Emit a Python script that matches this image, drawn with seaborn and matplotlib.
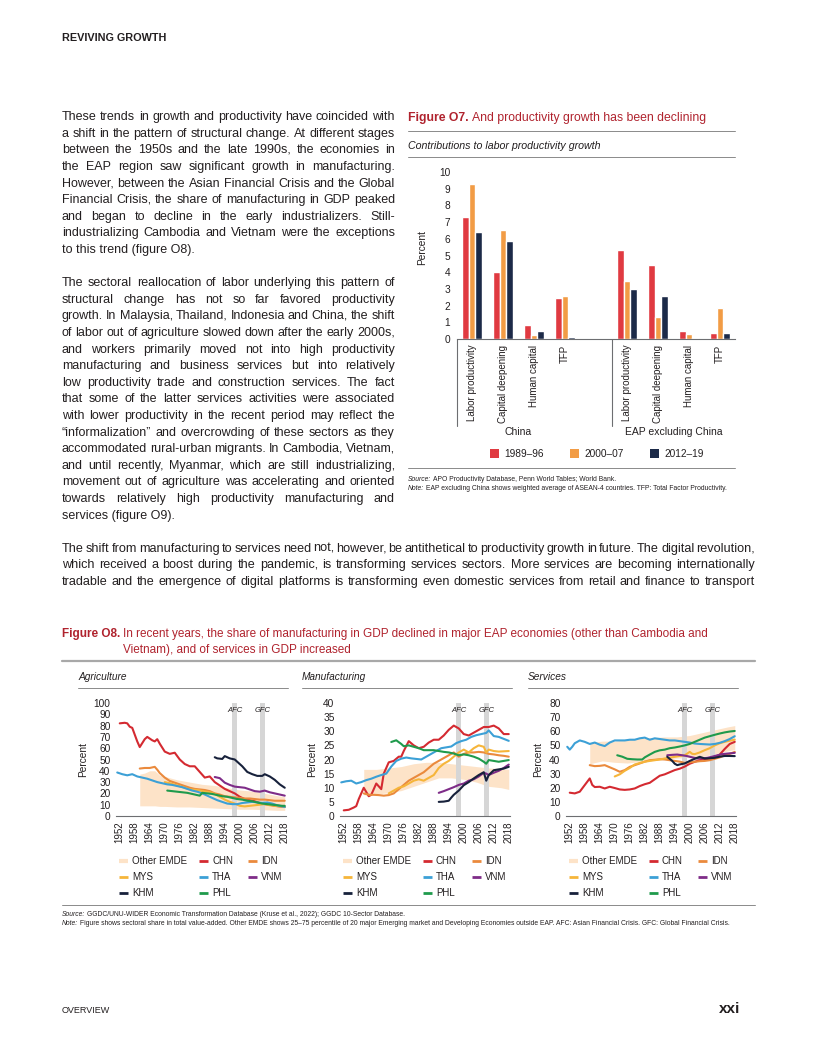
import matplotlib
matplotlib.use("Agg")
import matplotlib.pyplot as plt
from matplotlib.lines import Line2D
from matplotlib.patches import Patch
import matplotlib.transforms as mtransforms
import seaborn as sns
import pandas as pd

# ---------------------------------------------------------------- data: Figure O7
PERIODS = ["1989–96", "2000–07", "2012–19"]
COMPONENTS = ["Labor productivity", "Capital deepening", "Human capital", "TFP"]
GROUPS = ["China", "EAP excluding China"]
CHINA_1989_96 = [7.3, 4.0, 0.85, 2.45]
CHINA_2000_07 = [9.3, 6.5, 0.25, 2.55]
CHINA_2012_19 = [6.4, 5.85, 0.45, 0.12]
EAP_1989_96 = [5.3, 4.45, 0.45, 0.37]
EAP_2000_07 = [3.45, 1.3, 0.32, 1.85]
EAP_2012_19 = [3.0, 2.6, 0.05, 0.37]
O7_YTICKS = list(range(0, 11))

# ---------------------------------------------------------------- data: Figure O8
YEAR_TICKS = list(range(1952, 2019, 6))

# Agriculture
AGR_EMDE_YEARS = [1960, 1962, 1964, 1966, 1968, 1970, 1975, 1980, 1985, 1990, 1995, 2000, 2005, 2010, 2015, 2018]
AGR_EMDE_LO = [9, 9, 9, 9, 8.5, 8.5, 8, 8, 7.5, 7, 6.5, 6, 6, 5.5, 5, 5]
AGR_EMDE_HI = [37, 38, 40, 40, 36, 35, 32, 30, 28, 27, 25, 23, 22, 20, 18, 17]
AGR_CHN_YEARS = [1952, 1954, 1955, 1956, 1957, 1959, 1960, 1962, 1963, 1965, 1966, 1967, 1968, 1970, 1972, 1974, 1976,
                 1978, 1980, 1982, 1984, 1986, 1988, 1990, 1992, 1994, 1996, 1998, 2000, 2002, 2004, 2006, 2008, 2010,
                 2012, 2014, 2016, 2018]
AGR_CHN = [82, 82.5, 82, 79, 78, 66, 61, 68, 70, 67, 66, 68, 64, 57, 55, 56, 50, 46, 44, 44, 39, 34, 35, 30, 27, 24, 22,
           20, 17, 15, 14, 13, 11.5, 10.5, 10, 9, 8.5, 8]
AGR_IDN_YEARS = [1960, 1962, 1964, 1966, 1967, 1968, 1970, 1972, 1974, 1976, 1978, 1980, 1982, 1984, 1986, 1988, 1990,
                 1992, 1994, 1996, 1998, 2000, 2002, 2004, 2006, 2008, 2010, 2012, 2014, 2016, 2018]
AGR_IDN = [42, 42.5, 42.5, 43.5, 41, 38, 34, 31, 29.5, 28, 26.5, 25, 24, 23.5, 23, 22, 20, 19, 17.5, 17, 16.5, 16, 15.5,
           15.5, 15, 14.5, 14.5, 14, 13.5, 13.5, 13.5]
AGR_MYS_YEARS = [1970, 1972, 1975, 1978, 1980, 1983, 1985, 1988, 1990, 1992, 1994, 1996, 1998, 2000, 2002, 2004, 2006,
                 2008, 2010, 2012, 2014, 2016, 2018]
AGR_MYS = [30, 29, 27, 25, 23.5, 23, 22, 21, 19.5, 17, 14.5, 12.5, 11, 9, 8.5, 9, 9.5, 10, 10.5, 9.5, 9, 8.5, 8]
AGR_THA_YEARS = [1951, 1953, 1955, 1957, 1959, 1961, 1963, 1965, 1967, 1969, 1971, 1973, 1975, 1977, 1979, 1981, 1983,
                 1985, 1987, 1989, 1991, 1993, 1995, 1997, 1999, 2001, 2003, 2005, 2007, 2009, 2011, 2013, 2015, 2017,
                 2018]
AGR_THA = [38.5, 37, 36, 37, 35, 34, 33, 31.5, 30, 29, 28, 27.5, 26.5, 25.5, 24, 22.5, 21.5, 20, 18, 16, 14, 12.5, 11,
           10.5, 10.5, 11.5, 12, 12.5, 12, 11.5, 12, 11, 9.5, 8.5, 8]
AGR_VNM_YEARS = [1990, 1992, 1994, 1996, 1998, 2000, 2002, 2004, 2006, 2008, 2010, 2012, 2014, 2016, 2018]
AGR_VNM = [34.5, 33.5, 29.5, 27.5, 26, 25.5, 25, 23.5, 22, 21.5, 22.5, 21, 20, 19, 18]
AGR_KHM_YEARS = [1990, 1991, 1993, 1994, 1996, 1998, 1999, 2001, 2003, 2005, 2007, 2009, 2010, 2012, 2014, 2016, 2018]
AGR_KHM = [52, 51, 50.5, 53, 51, 50, 48, 44, 39, 37, 35.5, 35.5, 37, 35, 32, 28, 25]
AGR_PHL_YEARS = [1971, 1973, 1975, 1977, 1979, 1981, 1983, 1984, 1985, 1987, 1989, 1991, 1993, 1995, 1997, 1999, 2001,
                 2003, 2005, 2007, 2009, 2011, 2013, 2015, 2017, 2018]
AGR_PHL = [22.5, 22, 21.5, 21, 20.5, 19.5, 18.5, 18, 20.5, 20, 19.5, 18.5, 17.5, 17, 16, 15, 14.5, 13.5, 13, 12, 11,
           10.5, 10, 9.5, 9, 9]

# Manufacturing
MAN_EMDE_YEARS = [1960, 1965, 1970, 1975, 1980, 1985, 1990, 1995, 2000, 2005, 2010, 2015, 2018]
MAN_EMDE_LO = [7.5, 7.8, 8.2, 9, 10.5, 12, 13.5, 13.5, 13, 12, 10.5, 10, 9.4]
MAN_EMDE_HI = [16.5, 16.5, 17, 17.5, 18.5, 19, 19, 18.5, 18, 17.5, 17, 16.8, 16.5]
MAN_CHN_YEARS = [1952, 1954, 1956, 1957, 1958, 1960, 1961, 1962, 1963, 1965, 1966, 1967, 1968, 1970, 1972, 1974, 1975,
                 1976, 1978, 1980, 1982, 1984, 1986, 1988, 1990, 1992, 1994, 1996, 1998, 2000, 2002, 2004, 2006, 2008,
                 2010, 2012, 2014, 2016, 2018]
MAN_CHN = [2, 2.2, 3, 3.5, 6, 10, 8.5, 7, 7.5, 11.5, 10.5, 9.5, 15, 19, 19.5, 21, 21, 23, 26.5, 25, 24, 24.5, 26, 27,
           27, 28.5, 30.5, 32, 31, 29, 28.5, 29.5, 30.5, 31.5, 31.5, 32, 31, 29, 29]
MAN_IDN_YEARS = [1960, 1962, 1964, 1966, 1968, 1970, 1972, 1974, 1976, 1978, 1980, 1982, 1984, 1986, 1988, 1990, 1992,
                 1994, 1996, 1998, 2000, 2002, 2004, 2006, 2008, 2010, 2012, 2014, 2016, 2018]
MAN_IDN = [8, 7.5, 7.5, 7.4, 7.2, 7.4, 8, 9.5, 11, 12.5, 13.5, 14.5, 15.5, 17, 18.5, 19.5, 20.5, 21.5, 22.5, 21, 22,
           22.5, 22.5, 22.7, 22.5, 22, 21.8, 21.5, 21.3, 21]
MAN_MYS_YEARS = [1970, 1972, 1974, 1976, 1978, 1980, 1982, 1984, 1986, 1988, 1990, 1992, 1994, 1996, 1998, 2000, 2002,
                 2004, 2006, 2008, 2009, 2010, 2012, 2014, 2016, 2018]
MAN_MYS = [8, 9, 10, 10.5, 11.5, 12.5, 13, 12.5, 13.5, 14.5, 17, 18.5, 19.5, 21, 22.5, 23.5, 22.5, 24, 25, 24.5, 22.5,
           23.5, 23, 22.8, 22.9, 23]
MAN_THA_YEARS = [1951, 1953, 1955, 1957, 1959, 1961, 1963, 1965, 1967, 1969, 1971, 1973, 1975, 1977, 1979, 1981, 1983,
                 1985, 1987, 1989, 1991, 1993, 1995, 1997, 1999, 2001, 2003, 2005, 2007, 2009, 2010, 2012, 2014, 2016,
                 2018]
MAN_THA = [11.9, 12.3, 12.5, 11.5, 12, 12.7, 13.2, 13.9, 14.5, 15, 17.5, 19.5, 20.3, 20.7, 20.4, 20.2, 20, 21, 22, 23,
           24, 24.3, 24.6, 25.8, 26.5, 27, 28, 28.6, 29, 29.4, 30.3, 28.3, 28, 27.3, 26.6]
MAN_VNM_YEARS = [1990, 1992, 1994, 1996, 1998, 2000, 2002, 2004, 2006, 2008, 2009, 2010, 2012, 2014, 2016, 2018]
MAN_VNM = [8.2, 8.8, 9.5, 10.2, 11, 11.5, 12.5, 13, 14, 15.3, 15, 14.5, 15.3, 16, 17, 18.2]
MAN_KHM_YEARS = [1990, 1992, 1994, 1995, 1996, 1998, 2000, 2002, 2004, 2006, 2008, 2009, 2010, 2012, 2014, 2016, 2018]
MAN_KHM = [5, 5.1, 5.4, 6.5, 7.5, 9, 10.9, 12, 13.3, 14.5, 15.5, 12.5, 14.5, 16.2, 16.5, 16.8, 17.4]
MAN_PHL_YEARS = [1971, 1973, 1975, 1976, 1978, 1980, 1982, 1984, 1986, 1988, 1990, 1992, 1994, 1996, 1998, 2000, 2002,
                 2004, 2006, 2008, 2009, 2010, 2012, 2014, 2016, 2018]
MAN_PHL = [26.2, 26.8, 25.5, 24.7, 25, 24.5, 24, 23.3, 23.3, 23.3, 23, 22.7, 22.5, 22.1, 21.5, 21.8, 21.5, 21, 20.3,
           19.2, 18.5, 19.8, 19.5, 19.2, 19.5, 19.8]

# Services
SER_EMDE_YEARS = [1960, 1965, 1970, 1975, 1980, 1985, 1990, 1995, 2000, 2005, 2010, 2015, 2018]
SER_EMDE_LO = [37, 39, 38, 37.5, 38.5, 40, 40.5, 41, 41.5, 42, 44, 46, 47]
SER_EMDE_HI = [52, 53, 53, 54, 55, 55.5, 56, 56, 57, 59, 61, 63, 64]
SER_CHN_YEARS = [1952, 1954, 1956, 1958, 1960, 1961, 1962, 1964, 1966, 1968, 1970, 1972, 1974, 1976, 1978, 1980, 1982,
                 1984, 1986, 1988, 1990, 1992, 1994, 1996, 1998, 2000, 2002, 2004, 2006, 2008, 2010, 2012, 2014, 2016,
                 2018]
SER_CHN = [16.5, 16, 17.2, 21.9, 26.6, 22, 20.5, 20.7, 19.5, 20.7, 19.8, 18.8, 18.5, 18.8, 19.5, 21.2, 22.5, 23.5, 26,
           28.5, 29.5, 31, 32.5, 33.5, 35, 37, 38.4, 39.5, 40, 40.7, 41.5, 43.5, 47.5, 51, 52.5]
SER_IDN_YEARS = [1960, 1962, 1964, 1966, 1968, 1970, 1972, 1974, 1976, 1978, 1980, 1982, 1984, 1986, 1988, 1990, 1992,
                 1994, 1996, 1998, 2000, 2002, 2004, 2006, 2008, 2010, 2012, 2014, 2016, 2018]
SER_IDN = [36, 35.3, 35.5, 36, 34.5, 33, 31.3, 32.5, 34.8, 36, 37.2, 38.5, 39.5, 39.8, 40.2, 40, 39.5, 39, 38.5, 37.6,
           38, 38.4, 38.8, 39, 39.5, 40.5, 41.5, 43, 44, 45.4]
SER_MYS_YEARS = [1970, 1972, 1974, 1976, 1978, 1980, 1982, 1984, 1986, 1988, 1990, 1992, 1994, 1996, 1998, 2000, 2001,
                 2002, 2004, 2006, 2008, 2010, 2012, 2014, 2016, 2018]
SER_MYS = [28, 29.5, 32, 34, 36.5, 37.5, 38.4, 39, 39.5, 40, 40.7, 41.3, 41.9, 42.5, 43, 45.4, 44, 43.8, 45, 46.6, 48,
           50, 51.5, 52.5, 53.3, 54]
SER_THA_YEARS = [1951, 1952, 1953, 1954, 1956, 1958, 1960, 1962, 1964, 1966, 1968, 1970, 1972, 1974, 1976, 1978, 1980,
                 1982, 1984, 1986, 1988, 1990, 1992, 1994, 1996, 1998, 2000, 2002, 2004, 2006, 2008, 2010, 2012, 2014,
                 2016, 2018]
SER_THA = [49, 47, 49, 51.5, 53.5, 52.5, 51, 52, 50.5, 49.5, 52, 53.5, 53.5, 53.5, 54, 54, 55, 55.5, 54, 55, 54.5, 54,
           53.5, 53.5, 53, 52.5, 52, 51.3, 51, 50.8, 50.6, 51, 51.8, 53, 54.5, 56.5]
SER_VNM_YEARS = [1991, 1993, 1995, 1997, 1999, 2001, 2003, 2005, 2007, 2009, 2011, 2013, 2015, 2017, 2018]
SER_VNM = [43, 43.3, 43.5, 43, 42.4, 41.5, 40.7, 40.8, 41.2, 42, 43, 43.8, 44.2, 44.5, 44.7]
SER_KHM_YEARS = [1991, 1993, 1994, 1995, 1996, 1998, 2000, 2002, 2004, 2006, 2008, 2010, 2012, 2014, 2016, 2018]
SER_KHM = [41.9, 39, 37, 36, 36.5, 37.2, 39, 40.5, 41.9, 40.7, 40.9, 41.2, 42, 42.5, 42.5, 42.4]
SER_PHL_YEARS = [1971, 1973, 1975, 1977, 1979, 1981, 1982, 1984, 1986, 1988, 1990, 1992, 1994, 1996, 1998, 2000, 2002,
                 2004, 2006, 2008, 2010, 2012, 2014, 2016, 2018]
SER_PHL = [43, 42, 40.5, 40.2, 40, 40, 41.5, 43.5, 45.4, 46.5, 47, 48, 48.5, 49.2, 50, 51, 52.5, 54, 55.5, 56.5, 57.5,
           58.4, 59.2, 59.8, 60.2]

COUNTRIES = ["CHN", "IDN", "MYS", "THA", "VNM", "KHM", "PHL"]

# ---------------------------------------------------------------- styles
W, H = 816, 1056
TXT = "#231f20"
RED_T = "#b0232e"
RULE = "#8a8a8a"
BAR_COLORS = ["#e03a41", "#f29c45", "#1c2a48"]
LINE_COLORS = {"CHN": "#d42a31", "IDN": "#ea8a3d", "MYS": "#f6b53a", "THA": "#3ca0d6",
               "VNM": "#7e2c88", "KHM": "#17213b", "PHL": "#1f9a4c"}
EMDE_COLOR = "#fde3c8"

sns.set_theme(style="white")
FAM = ["Liberation Sans", "DejaVu Sans"]
plt.rcParams["font.family"] = FAM
plt.rcParams["text.color"] = TXT
plt.rcParams["axes.labelcolor"] = TXT
plt.rcParams["xtick.color"] = TXT
plt.rcParams["ytick.color"] = TXT

fig = plt.figure(figsize=(W / 100, H / 100), dpi=100)
fig.patch.set_facecolor("white")
R = fig.canvas.get_renderer()


def rect(l, t, r, b):
    return [l / W, 1 - b / H, (r - l) / W, (b - t) / H]


def T(x, yc, s, size, ha="left", **kw):
    kw.setdefault("color", TXT)
    base = round(yc + 0.36 * size) - 0.25
    return fig.text(x / W, 1 - base / H, s, fontsize=size, ha=ha, va="baseline", **kw)


def tw(s, size, **kw):
    kw.pop("color", None)
    t = fig.text(0, 0, s, fontsize=size, **kw)
    w = t.get_window_extent(renderer=R).width
    t.remove()
    return w


def space_w(size, **kw):
    return tw("a a", size, **kw) - tw("aa", size, **kw)


def rich(x, yc, parts, size):
    for s, kw in parts:
        T(x, yc, s, size, **kw)
        x += tw(s, size, **kw) + space_w(size, **kw)
    return x


def rule(x0, x1, y, color=RULE, lw=0.7):
    fig.add_artist(Line2D([x0 / W, x1 / W], [1 - y / H, 1 - y / H], transform=fig.transFigure, color=color, lw=lw))


def fit_size(lines, x0, x1, size, min_gap=2.0):
    s = size
    for line in lines:
        words = line.split()
        while s > 6:
            gap = (x1 - x0 - sum(tw(w, s) for w in words)) / (len(words) - 1)
            if gap >= min_gap:
                break
            s -= 0.1
    return s


def para(lines, x0, x1, y0, dy, size, ends=True):
    for i, line in enumerate(lines):
        yc = y0 + i * dy
        words = line.split()
        if ends and i == len(lines) - 1:
            T(x0, yc, line, size)
            continue
        widths = [tw(w, size) for w in words]
        gap = (x1 - x0 - sum(widths)) / (len(words) - 1)
        x = x0
        for w, wd in zip(words, widths):
            T(x, yc, w, size)
            x += wd + gap


# ---------------------------------------------------------------- page text
T(62, 38, "REVIVING GROWTH", 7.8, weight="bold")
T(62, 1011, "OVERVIEW", 6.5)
T(740, 1009, "xxi", 11, ha="right", weight="bold")

P1 = ["These trends in growth and productivity have coincided with",
      "a shift in the pattern of structural change. At different stages",
      "between the 1950s and the late 1990s, the economies in",
      "the EAP region saw significant growth in manufacturing.",
      "However, between the Asian Financial Crisis and the Global",
      "Financial Crisis, the share of manufacturing in GDP peaked",
      "and began to decline in the early industrializers. Still-",
      "industrializing Cambodia and Vietnam were the exceptions",
      "to this trend (figure O8)."]
P2 = ["The sectoral reallocation of labor underlying this pattern of",
      "structural change has not so far favored productivity",
      "growth. In Malaysia, Thailand, Indonesia and China, the shift",
      "of labor out of agriculture slowed down after the early 2000s,",
      "and workers primarily moved not into high productivity",
      "manufacturing and business services but into relatively",
      "low productivity trade and construction services. The fact",
      "that some of the latter services activities were associated",
      "with lower productivity in the recent period may reflect the",
      "“informalization” and overcrowding of these sectors as they",
      "accommodated rural-urban migrants. In Cambodia, Vietnam,",
      "and until recently, Myanmar, which are still industrializing,",
      "movement out of agriculture was accelerating and oriented",
      "towards relatively high productivity manufacturing and",
      "services (figure O9)."]
P3 = ["The shift from manufacturing to services need not, however, be antithetical to productivity growth in future. The digital revolution,",
      "which received a boost during the pandemic, is transforming services sectors. More services are becoming internationally",
      "tradable and the emergence of digital platforms is transforming even domestic services from retail and finance to transport"]
DY = 16.6
Y0 = 117
body_left = fit_size(P1[:-1] + P2[:-1], 62, 395, 9.2, 2.4)
body_wide = fit_size(P3, 62, 755, 9.2, 2.0)
para(P1, 62, 395, Y0, DY, body_left)
para(P2, 62, 395, Y0 + 10 * DY, DY, body_left)
para(P3, 62, 755, Y0 + 26 * DY, DY, body_wide, ends=False)

# ---------------------------------------------------------------- Figure O7
rich(408, 118, [("Figure O7.", dict(color=RED_T, weight="bold")),
                ("And productivity growth has been declining", dict(color=RED_T))], 8.8)
rule(408, 735, 131)
T(408, 146, "Contributions to labor productivity growth", 7.7, style="italic")
rule(408, 735, 157)

rows = []
for g, series in [(GROUPS[0], [CHINA_1989_96, CHINA_2000_07, CHINA_2012_19]),
                  (GROUPS[1], [EAP_1989_96, EAP_2000_07, EAP_2012_19])]:
    for p, vals in zip(PERIODS, series):
        for comp, v in zip(COMPONENTS, vals):
            rows.append({"slot": f"{g}|{comp}", "period": p, "value": v})
df7 = pd.DataFrame(rows)
order = [f"{GROUPS[0]}|{c}" for c in COMPONENTS] + ["gap"] + [f"{GROUPS[1]}|{c}" for c in COMPONENTS]

ax7 = fig.add_axes(rect(457, 172, 735, 339))
sns.barplot(data=df7, x="slot", y="value", hue="period", order=order, hue_order=PERIODS,
            palette=BAR_COLORS, saturation=1, width=0.64, errorbar=None, legend=False, ax=ax7)
ax7.set_xlim(-0.48, 8.48)
ax7.set_ylim(0, 10)
ax7.set_yticks(O7_YTICKS)
ax7.set_xticks([0, 1, 2, 3, 5, 6, 7, 8])
ax7.set_xticklabels(COMPONENTS * 2, rotation=90, va="top")
ax7.tick_params(axis="x", length=0, pad=4, labelsize=7)
ax7.tick_params(axis="y", length=0, pad=5, labelsize=7.3)
ax7.set_xlabel("")
ax7.set_ylabel("")
for sp in ["top", "right", "left"]:
    ax7.spines[sp].set_visible(False)
ax7.spines["bottom"].set_color("#6d6e71")
ax7.spines["bottom"].set_linewidth(0.8)
for xv in [-0.48, 4.5]:
    ax7.axvline(xv, ymin=-0.52, ymax=0, clip_on=False, color="#6d6e71", lw=0.8)
btr = mtransforms.blended_transform_factory(ax7.transData, ax7.transAxes)
ax7.text(1.5, -0.555, GROUPS[0], transform=btr, ha="center", va="center", fontsize=7.5)
ax7.text(6.5, -0.555, GROUPS[1], transform=btr, ha="center", va="center", fontsize=7.5)
T(425, 245, "Percent", 7.3, ha="center", rotation=90, rotation_mode="anchor")
handles = [Patch(facecolor=c, edgecolor="none", label=p) for c, p in zip(BAR_COLORS, PERIODS)]
fig.legend(handles=handles, loc="center", bbox_to_anchor=(597 / W, 1 - 454 / H), ncol=3, frameon=False,
           fontsize=7.3, handlelength=0.9, handleheight=0.9, handletextpad=0.5, columnspacing=2.6)
rule(408, 735, 468)
rich(408, 479, [("Source:", dict(style="italic")),
                ("APO Productivity Database, Penn World Tables; World Bank.", {})], 4.9)
rich(408, 488, [("Note:", dict(style="italic")),
                ("EAP excluding China shows weighted average of ASEAN-4 countries. TFP: Total Factor Productivity.", {})],
     4.9)

# ---------------------------------------------------------------- Figure O8
x_in = rich(62, 634, [("Figure O8.", dict(color=RED_T, weight="bold"))], 8.5)
T(x_in, 634, "In recent years, the share of manufacturing in GDP declined in major EAP economies (other than Cambodia and",
  8.5, color=RED_T)
T(x_in, 650, "Vietnam), and of services in GDP increased", 8.5, color=RED_T)
rule(62, 755, 661, color="#a8a8a8", lw=1.6)

panels = [
    ("Agriculture", 116, (0, 100), list(range(0, 101, 10)),
     (AGR_EMDE_YEARS, AGR_EMDE_LO, AGR_EMDE_HI),
     {"CHN": (AGR_CHN_YEARS, AGR_CHN), "IDN": (AGR_IDN_YEARS, AGR_IDN), "MYS": (AGR_MYS_YEARS, AGR_MYS),
      "THA": (AGR_THA_YEARS, AGR_THA), "VNM": (AGR_VNM_YEARS, AGR_VNM), "KHM": (AGR_KHM_YEARS, AGR_KHM),
      "PHL": (AGR_PHL_YEARS, AGR_PHL)}),
    ("Manufacturing", 340, (0, 40), list(range(0, 41, 5)),
     (MAN_EMDE_YEARS, MAN_EMDE_LO, MAN_EMDE_HI),
     {"CHN": (MAN_CHN_YEARS, MAN_CHN), "IDN": (MAN_IDN_YEARS, MAN_IDN), "MYS": (MAN_MYS_YEARS, MAN_MYS),
      "THA": (MAN_THA_YEARS, MAN_THA), "VNM": (MAN_VNM_YEARS, MAN_VNM), "KHM": (MAN_KHM_YEARS, MAN_KHM),
      "PHL": (MAN_PHL_YEARS, MAN_PHL)}),
    ("Services", 566, (0, 80), list(range(0, 81, 10)),
     (SER_EMDE_YEARS, SER_EMDE_LO, SER_EMDE_HI),
     {"CHN": (SER_CHN_YEARS, SER_CHN), "IDN": (SER_IDN_YEARS, SER_IDN), "MYS": (SER_MYS_YEARS, SER_MYS),
      "THA": (SER_THA_YEARS, SER_THA), "VNM": (SER_VNM_YEARS, SER_VNM), "KHM": (SER_KHM_YEARS, SER_KHM),
      "PHL": (SER_PHL_YEARS, SER_PHL)}),
]

PW = 170
for title, L, ylim, yticks, emde, series in panels:
    T(L - 38, 677, title, 7.3, style="italic")
    rule(L - 38, L + 172, 688)
    ax = fig.add_axes(rect(L, 703, L + PW, 816))
    ax.fill_between(emde[0], emde[1], emde[2], color=EMDE_COLOR, lw=0, zorder=1)
    for c0, c1, lab in [(1997, 1999, "AFC"), (2008, 2010, "GFC")]:
        ax.axvspan(c0, c1, color="#d6d6d6", lw=0, zorder=2)
        ax.text((c0 + c1) / 2, 0.93, lab, transform=ax.get_xaxis_transform(), ha="center", va="center",
                fontsize=5.5, style="italic", color=TXT, zorder=5)
    for cc in COUNTRIES:
        yrs, vals = series[cc]
        sns.lineplot(x=yrs, y=vals, ax=ax, color=LINE_COLORS[cc], lw=1.5, legend=False, zorder=3)
    ax.set_xlim(1950.5, 2018.5)
    ax.set_ylim(*ylim)
    ax.set_yticks(yticks)
    ax.set_xticks(YEAR_TICKS)
    ax.set_xticklabels([str(y) for y in YEAR_TICKS], rotation=90)
    ax.tick_params(axis="x", length=0, pad=4, labelsize=7)
    ax.tick_params(axis="y", length=0, pad=4, labelsize=7.3)
    ax.set_ylabel("Percent", fontsize=7.3, labelpad=4)
    ax.set_xlabel("")
    ax.set_facecolor("white")
    for sp in ["top", "right", "left"]:
        ax.spines[sp].set_visible(False)
    ax.spines["bottom"].set_color("#6d6e71")
    ax.spines["bottom"].set_linewidth(0.8)

    # legend (3 columns)
    cols = [(L + 3, ["Other EMDE", "MYS", "KHM"]), (L + 83, ["CHN", "THA", "PHL"]), (L + 132, ["IDN", "VNM"])]
    for hx, names in cols:
        for k, name in enumerate(names):
            yy = 861 + 16 * k
            col = EMDE_COLOR if name == "Other EMDE" else LINE_COLORS[name]
            fig.add_artist(Line2D([hx / W, (hx + 9) / W], [1 - yy / H, 1 - yy / H], transform=fig.transFigure,
                                  color=col, lw=3.0 if name == "Other EMDE" else 2.0, solid_capstyle="butt"))
            T(hx + 13, yy, name, 7.0)

rule(62, 755, 905)
rich(62, 914, [("Source:", dict(style="italic")),
               ("GGDC/UNU-WIDER Economic Transformation Database (Kruse et al., 2022); GGDC 10-Sector Database.", {})],
     4.85)
rich(62, 923, [("Note:", dict(style="italic")),
               ("Figure shows sectoral share in total value-added. Other EMDE shows 25–75 percentile of 20 major Emerging "
                "market and Developing Economies outside EAP. AFC: Asian Financial Crisis. GFC: Global Financial Crisis.",
                {})], 4.85)

fig.savefig("out.png", dpi=100, facecolor="white")
